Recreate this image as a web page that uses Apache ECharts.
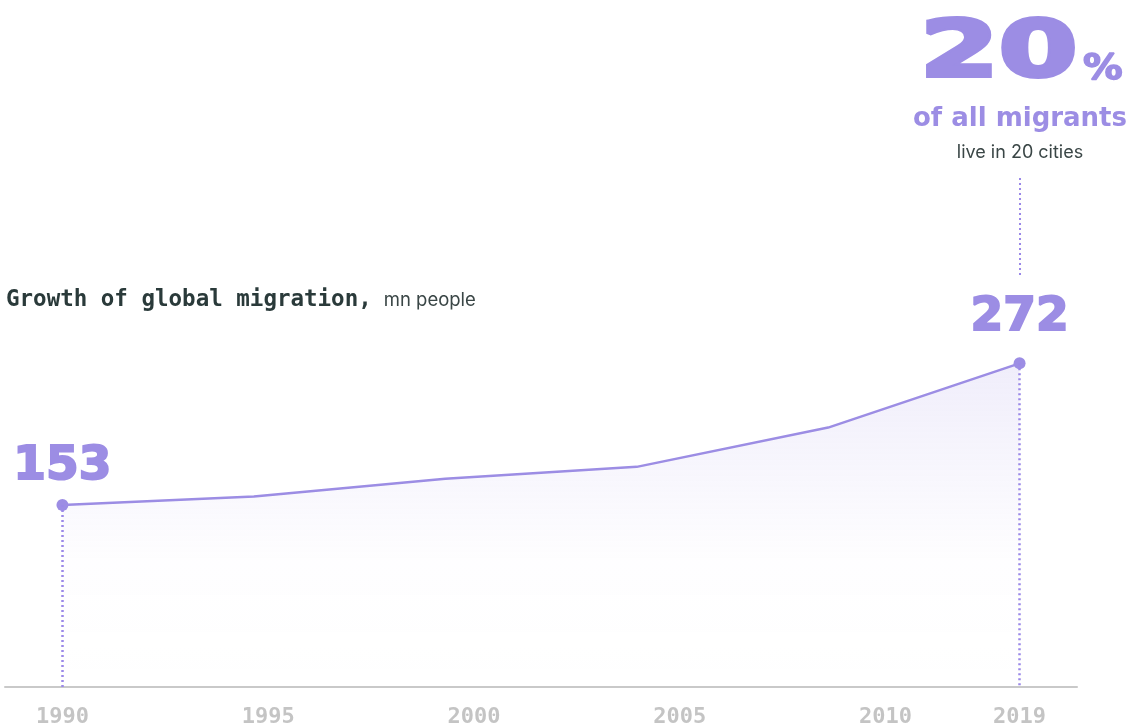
<!DOCTYPE html>
<html>
<head>
<meta charset="utf-8">
<script src="https://cdn.jsdelivr.net/npm/echarts@6/dist/echarts.min.js"></script>
<style>
  html, body { margin: 0; padding: 0; background: #fff; }
  #chart { width: 1141px; height: 728px; }
</style>
</head>
<body>
<div id="chart"></div>
<script>
// migration, mn people
const years = ['1990', '1995', '2000', '2005', '2010', '2019'];
const migrants = [153, 160, 175, 185, 218, 272];

const purple = '#9c8de4';
const dark = '#2a3a3a';
const last = migrants.length - 1;

// year labels sit on an even step that is a bit wider than the point spacing,
// the last one is pinned to the final point
const labelStep = 1.075;
const labelPos = years.map((y, i) => (i === last ? last : i * labelStep));

const seriesData = migrants.map((v, i) => {
  const isEnd = i === 0 || i === last;
  return {
    value: [i, v],
    label: {
      show: isEnd,
      distance: i === 0 ? 9 : 16
    }
  };
});

const chart = echarts.init(document.getElementById('chart'));

const option = {
  animation: false,
  title: {
    text: '{a|Growth of global migration,}{b|mn people}',
    left: 6,
    top: 288,
    padding: 0,
    textStyle: {
      rich: {
        a: { fontFamily: 'DejaVu Sans Mono', fontWeight: 'bold', fontSize: 22.5, color: dark, lineHeight: 24 },
        b: { fontFamily: 'Inter', fontWeight: 'normal', fontSize: 18.5, color: '#3a4646', lineHeight: 24, padding: [0, 0, 0, 12] }
      }
    }
  },
  grid: {
    left: 5,
    right: 64,
    top: 20.6,
    bottom: 41
  },
  xAxis: {
    type: 'value',
    min: -0.3,
    max: last + 0.3,
    splitLine: { show: false },
    axisTick: { show: false },
    axisLine: { show: true, onZero: false, lineStyle: { color: '#c9c9c9', width: 2 } },
    axisLabel: {
      customValues: labelPos,
      margin: 19,
      fontFamily: 'DejaVu Sans Mono',
      fontWeight: 'bold',
      fontSize: 22,
      color: '#c4c4c4',
      formatter: (v) => {
        let best = 0;
        labelPos.forEach((p, i) => {
          if (Math.abs(p - v) < Math.abs(labelPos[best] - v)) best = i;
        });
        return years[best];
      }
    }
  },
  yAxis: {
    type: 'value',
    min: 0,
    max: 560,
    show: false
  },
  series: [
    {
      type: 'line',
      data: seriesData,
      showSymbol: true,
      symbol: 'circle',
      symbolSize: (val, params) => (params.dataIndex === 0 || params.dataIndex === last ? 12 : 0),
      itemStyle: { color: purple },
      lineStyle: { color: purple, width: 2.5 },
      areaStyle: {
        color: new echarts.graphic.LinearGradient(0, 0, 0, 1, [
          { offset: 0, color: 'rgba(156,141,228,0.22)' },
          { offset: 0.6, color: 'rgba(156,141,228,0.02)' },
          { offset: 1, color: 'rgba(255,255,255,0)' }
        ])
      },
      label: {
        position: 'top',
        fontFamily: 'DejaVu Sans',
        fontWeight: 'bold',
        fontSize: 47,
        color: purple,
        textBorderColor: purple,
        textBorderWidth: 2
      },
      markLine: {
        silent: true,
        symbol: 'none',
        label: { show: false },
        lineStyle: { color: '#9a88e8', width: 2.5, type: [2, 3] },
        data: [
          [{ coord: [0, migrants[0]] }, { coord: [0, 0] }],
          [{ coord: [last, migrants[last]] }, { coord: [last, 0] }]
        ]
      }
    }
  ],
  graphic: [
    {
      type: 'text',
      x: 920,
      y: 56,
      scaleX: 1.45,
      style: {
        text: '20',
        font: 'bold 78px "DejaVu Sans"',
        fill: purple,
        stroke: purple,
        lineWidth: 4,
        verticalAlign: 'middle'
      }
    },
    {
      type: 'text',
      x: 1083,
      y: 70,
      scaleX: 1.1,
      style: {
        text: '%',
        font: 'bold 36px "DejaVu Sans"',
        fill: purple,
        stroke: purple,
        lineWidth: 1.5,
        verticalAlign: 'middle'
      }
    },
    {
      type: 'text',
      x: 1020,
      y: 119,
      style: {
        text: 'of all migrants',
        font: 'bold 26px "DejaVu Sans"',
        fill: purple,
        align: 'center',
        verticalAlign: 'middle'
      }
    },
    {
      type: 'text',
      x: 1020,
      y: 153,
      style: {
        text: 'live in 20 cities',
        font: '18px Inter',
        fill: '#3a4646',
        align: 'center',
        verticalAlign: 'middle'
      }
    },
    {
      type: 'line',
      shape: { x1: 1020, y1: 178, x2: 1020, y2: 275 },
      style: { stroke: '#9a88e8', lineWidth: 2, lineDash: [2, 3] }
    }
  ]
};

chart.setOption(option);
</script>
</body>
</html>
